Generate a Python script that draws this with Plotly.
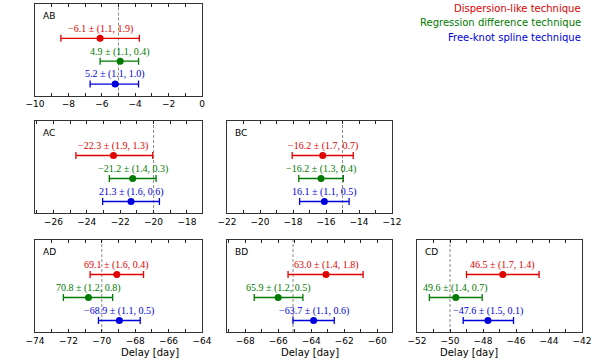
import plotly.graph_objects as go

W, H = 600, 361

# ── data ────────────────────────────────────────────────────────────────────
pairs = ["AB", "AC", "BC", "AD", "BD", "CD"]
x_ranges = [[-10, 0], [-27.1, -17.1], [-22, -12], [-74, -64], [-69.1, -59.1], [-52, -42]]
ref_delay = [-5.0, -20.0, -15.0, -70.0, -65.1, -50.0]

# centre, lower end, upper end of each bar
disp_center = [-6.1, -22.4, -16.2, -69.1, -63.1, -46.8]
disp_lo = [-8.45, -24.65, -18.05, -70.7, -65.4, -49.0]
disp_hi = [-3.75, -20.05, -14.35, -67.5, -60.85, -44.6]

regr_center = [-4.9, -21.25, -16.3, -70.8, -66.0, -49.65]
regr_lo = [-6.1, -22.65, -17.65, -72.3, -67.45, -51.25]
regr_hi = [-3.8, -19.85, -14.95, -69.35, -64.5, -48.05]

spl_center = [-5.2, -21.35, -16.1, -68.95, -63.85, -47.7]
spl_lo = [-6.7, -23.05, -17.6, -70.2, -65.1, -49.2]
spl_hi = [-3.8, -19.65, -14.6, -67.7, -62.6, -46.15]

disp_text = ["−6.1 ± (1.1, 1.9)", "−22.3 ± (1.9, 1.3)", "−16.2 ± (1.7, 0.7)",
             "69.1 ± (1.6, 0.4)", "63.0 ± (1.4, 1.8)", "46.5 ± (1.7, 1.4)"]
regr_text = ["4.9 ± (1.1, 0.4)", "−21.2 ± (1.4, 0.3)", "−16.2 ± (1.3, 0.4)",
             "70.8 ± (1.2, 0.8)", "65.9 ± (1.2, 0.5)", "49.6 ± (1.4, 0.7)"]
spl_text = ["5.2 ± (1.1, 1.0)", "21.3 ± (1.6, 0.6)", "16.1 ± (1.1, 0.5)",
            "−68.9 ± (1.1, 0.5)", "−63.7 ± (1.1, 0.6)", "−47.6 ± (1.5, 0.1)"]

methods = ["Dispersion-like technique", "Regression difference technique",
           "Free-knot spline technique"]
colors = ["#e00000", "#007a00", "#0000dd"]
levels = [3, 2, 1]

# ── panel boxes in pixels (left, right, top, bottom) ────────────────────────
boxes = [(35, 202, 4, 95.5),
         (35, 202, 121, 213),
         (227, 392, 121, 213),
         (35, 202, 240, 332),
         (227, 392, 240, 332),
         (417, 582, 240, 332)]

fig = go.Figure()
series = [(disp_center, disp_lo, disp_hi, disp_text),
          (regr_center, regr_lo, regr_hi, regr_text),
          (spl_center, spl_lo, spl_hi, spl_text)]

for i, name in enumerate(pairs):
    n = "" if i == 0 else str(i + 1)
    xa, ya = "x" + n, "y" + n
    l, r, t, b = boxes[i]
    fig.layout["xaxis" + n] = dict(
        domain=[l / W, r / W], anchor=ya, range=x_ranges[i], dtick=2,
        ticks="inside", ticklen=3, tickcolor="#222", mirror="ticks",
        minor=dict(dtick=1, ticks="inside", ticklen=3, tickcolor="#222"),
        showline=True, linecolor="#333", linewidth=1, showgrid=False,
        zeroline=False, automargin=False,
        tickfont=dict(family="DejaVu Sans", size=9, color="black"),
    )
    fig.layout["yaxis" + n] = dict(
        domain=[1 - b / H, 1 - t / H], anchor=xa, range=[0.5, 4.5],
        showticklabels=False, ticks="", showline=True, mirror=True, automargin=False,
        linecolor="#333", linewidth=1, showgrid=False, zeroline=False,
    )
    fig.add_shape(type="line", xref=xa, yref=ya + " domain", layer="below",
                  x0=ref_delay[i], x1=ref_delay[i], y0=0, y1=1,
                  line=dict(color="#8a8a8a", width=1, dash="3px,2px"))
    fig.add_annotation(text=name, xref=xa + " domain", yref=ya + " domain",
                       x=0.035, y=0.87, xanchor="left", yanchor="middle",
                       showarrow=False,
                       font=dict(family="DejaVu Sans", size=9, color="black"))
    if i >= 3:
        fig.add_annotation(text="Delay [day]", xref="paper", yref="paper",
                           x=(l + r) / 2 / W, y=1 - 352.5 / H, yanchor="middle",
                           showarrow=False,
                           font=dict(family="DejaVu Sans", size=10, color="black"))
    for k, (c, lo, hi, txt) in enumerate(series):
        fig.add_trace(go.Scatter(
            x=[c[i]], y=[levels[k]], xaxis=xa, yaxis=ya, mode="markers",
            marker=dict(color=colors[k], size=7),
            error_x=dict(type="data", symmetric=False,
                         array=[hi[i] - c[i]], arrayminus=[c[i] - lo[i]],
                         color=colors[k], thickness=1.3, width=3.5),
            showlegend=False,
        ))
        fig.add_annotation(text=txt[i], xref=xa, yref=ya, x=c[i], y=levels[k] + 0.42,
                           showarrow=False, yanchor="middle",
                           font=dict(family="Liberation Serif", size=10, color=colors[k]))

for k, m in enumerate(methods):
    fig.add_annotation(text=m, xref="paper", yref="paper", x=583 / W,
                       y=1 - (8 + 14.5 * k) / H, xanchor="right", yanchor="middle",
                       showarrow=False,
                       font=dict(family="DejaVu Sans", size=10, color=colors[k]))

fig.update_layout(width=W, height=H, margin=dict(l=0, r=0, t=0, b=0),
                  plot_bgcolor="white", paper_bgcolor="white")
fig.write_html("out.html", config={"displayModeBar": False},
               post_script="document.body.style.margin='0';document.body.style.overflow='hidden';")
